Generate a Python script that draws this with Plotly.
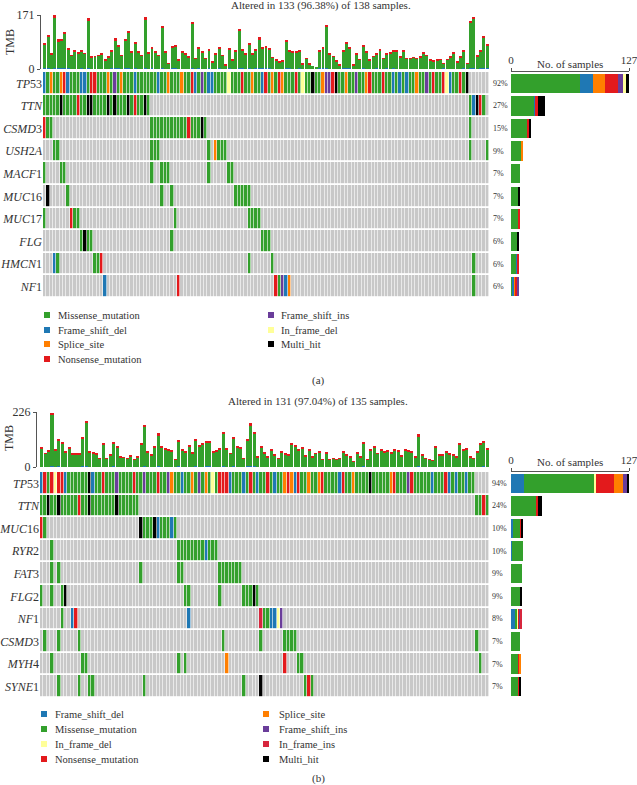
import plotly.graph_objects as go

W, H = 637, 785
FONT = "Liberation Serif"
TXT = "#333333"

# mutation classes: code -> label / colour
codes = ["M", "D", "S", "N", "I", "F", "H", "J"]
names = {"M": "Missense_mutation", "D": "Frame_shift_del", "S": "Splice_site",
         "N": "Nonsense_mutation", "I": "Frame_shift_ins", "F": "In_frame_del",
         "H": "Multi_hit", "J": "In_frame_ins"}
colors = {"M": "#33A02C", "D": "#1F78B4", "S": "#FF7F00", "N": "#E31A1C",
          "I": "#6A3D9A", "F": "#FFFF99", "H": "#000000", "J": "#D7263D"}
bg_gray = "#C8C8C8"

# ---------------- panel (a) data ----------------
n_a = 133
genes_a = ["TP53", "TTN", "CSMD3", "USH2A", "MACF1", "MUC16", "MUC17", "FLG", "HMCN1", "NF1"]
pct_a = ["92%", "27%", "15%", "9%", "7%", "7%", "7%", "6%", "6%", "6%"]
# each gene: list of (first sample column, run of mutation codes)
rows_a = [
    [(0, "DMSMMSNDMM" "MDDMNNMMMS" "MIMSMMMDMM" "MMMMDMMSMM" "MSMMNDMIMD" "DMMMMFMMMN"
         "MMSMMDNMSM" "NSMMMNMFMM" "HMMSIINHMM" "SMMIMMSNMM" "MNMMDMDMDM" "MSMMIMNMMN" "FDMMNMH")],
    [(0, "MMMMMHMMMM" "NMMHHMMMMH" "MHMMMHMNMM" "HM"), (127, "MDHNM")],
    [(0, "NMM"), (32, "MMMMMMMMMMMNMMMHM"), (127, "M")],
    [(3, "MM"), (32, "MMM"), (49, "M"), (51, "SMMM"), (127, "M"), (132, "M")],
    [(0, "M"), (5, "MM"), (32, "M"), (35, "MMM"), (49, "M"), (55, "MM")],
    [(1, "H"), (7, "M"), (35, "M"), (38, "M"), (57, "MMMMM")],
    [(0, "M"), (8, "NMM"), (39, "M"), (61, "MMMM")],
    [(11, "MHMM"), (38, "M"), (65, "MMM")],
    [(3, "DM"), (15, "MMN"), (61, "M"), (68, "M"), (128, "M")],
    [(18, "D"), (40, "N"), (69, "NMIDS"), (128, "M")],
]
tmb_a = [83, 108, 50, 171, 94, 94, 118, 65, 44, 58, 52, 60, 50, 160, 39, 41, 44, 48, 29, 39,
         60, 97, 76, 44, 94, 121, 55, 87, 55, 44, 164, 52, 68, 55, 44, 136, 55, 18, 71, 76,
         29, 55, 50, 39, 150, 34, 71, 55, 34, 62, 23, 50, 68, 44, 13, 65, 29, 58, 126, 62,
         48, 81, 50, 62, 100, 69, 71, 65, 37, 29, 23, 26, 92, 60, 55, 55, 60, 16, 34, 16,
         10, 7, 58, 68, 140, 48, 41, 26, 13, 60, 87, 68, 13, 50, 31, 76, 55, 29, 41, 50,
         62, 34, 48, 52, 58, 60, 39, 60, 34, 34, 37, 34, 39, 52, 44, 29, 26, 29, 31, 18,
         31, 39, 52, 23, 39, 58, 18, 153, 166, 44, 60, 105, 79]
tmb_non_a = [6, 7, 3, 9, 6, 4, 8, 4, 2, 3, 3, 4, 2, 9, 2, 2, 2, 3, 1, 2,
             4, 6, 5, 2, 5, 8, 3, 6, 3, 2, 9, 3, 4, 3, 2, 7, 3, 1, 4, 5,
             1, 3, 3, 2, 8, 2, 5, 3, 2, 4, 1, 3, 4, 2, 1, 4, 1, 3, 7, 4,
             3, 5, 3, 4, 6, 5, 4, 4, 2, 1, 1, 1, 6, 4, 3, 3, 4, 1, 2, 1,
             0, 0, 3, 4, 8, 3, 2, 1, 1, 4, 5, 4, 1, 3, 2, 5, 3, 2, 2, 3,
             4, 2, 3, 3, 4, 4, 2, 4, 2, 2, 2, 2, 3, 3, 2, 2, 2, 2, 2, 1,
             2, 3, 3, 1, 2, 4, 1, 8, 9, 3, 4, 7, 5]
tmb_del_a = [2, 3, 1, 4, 2, 2, 3, 2, 1, 1, 1, 2, 1, 4, 1, 1, 1, 1, 1, 1,
             2, 3, 2, 1, 3, 3, 1, 2, 1, 1, 4, 1, 2, 1, 1, 3, 1, 0, 2, 2,
             1, 1, 1, 1, 3, 1, 2, 1, 1, 2, 0, 1, 2, 1, 0, 2, 1, 1, 3, 2,
             1, 2, 1, 2, 3, 2, 2, 2, 1, 1, 0, 1, 3, 2, 1, 1, 2, 0, 1, 0,
             0, 0, 2, 2, 3, 1, 1, 1, 0, 2, 2, 2, 0, 1, 1, 2, 1, 1, 1, 2,
             1, 1, 2, 1, 2, 1, 1, 1, 1, 1, 1, 1, 1, 1, 1, 1, 0, 1, 1, 2,
             1, 1, 1, 0, 1, 2, 0, 4, 4, 1, 2, 3, 2]
tmb_max_a = 171
bar_max_a = 127
stack_a = ["M", "D", "S", "N", "I", "F", "H"]
legend_a = [["M", "D", "S", "N"], ["I", "F", "H"]]
title_a = "Altered in 133 (96.38%) of 138 samples."

# ---------------- panel (b) data ----------------
n_b = 131
genes_b = ["TP53", "TTN", "MUC16", "RYR2", "FAT3", "FLG2", "NF1", "CSMD3", "MYH4", "SYNE1"]
pct_b = ["94%", "24%", "10%", "10%", "9%", "9%", "8%", "7%", "7%", "7%"]
rows_b = [
    [(0, "DNMNFNNDMM" "MMMMHDMMNM" "MMIMMMMNMM" "IMMMNMMISM" "MDMMSMIMSM" "FMNNNDMMMD"
         "MNMDMMNMDM" "MSNSDNMMSM" "MSNMMMMDNM" "MSMMMMHMMM" "MMSNMMMINM" "MMMMDMMMND" "MDMMDMM")],
    [(0, "MMHMMHMMMM" "MNMMHMMMMM" "MMHMMMMMM"), (127, "MMNM")],
    [(0, "NM"), (29, "HMMMHDMMMDM")],
    [(3, "M"), (40, "MMMMMMMMDMMM")],
    [(3, "M"), (5, "M"), (29, "M"), (40, "MM"), (52, "MMMMMMM")],
    [(0, "M"), (3, "M"), (6, "MH"), (42, "MM"), (52, "M"), (59, "MMMHM")],
    [(6, "M"), (9, "DN"), (43, "D"), (64, "JMMDDFI")],
    [(1, "M"), (5, "M"), (11, "M"), (53, "M"), (64, "M"), (71, "MMMM"), (127, "M")],
    [(3, "M"), (12, "MM"), (40, "M"), (42, "M"), (54, "S"), (71, "N"), (75, "MM"), (128, "M")],
    [(5, "M"), (11, "M"), (14, "MM"), (30, "M"), (59, "M"), (64, "H"), (77, "MNM")],
]
tmb_b = [81, 57, 68, 222, 70, 114, 104, 64, 81, 54, 54, 54, 124, 189, 64, 60, 54, 37, 97, 37,
         50, 104, 87, 43, 41, 37, 46, 32, 43, 97, 172, 64, 50, 87, 138, 84, 77, 70, 68, 30,
         111, 70, 64, 91, 60, 114, 87, 97, 108, 104, 64, 68, 77, 145, 77, 57, 124, 84, 81, 37,
         114, 179, 145, 43, 84, 60, 43, 70, 50, 37, 64, 54, 50, 97, 91, 70, 81, 46, 73, 43,
         57, 64, 30, 60, 30, 37, 30, 37, 64, 50, 43, 23, 60, 43, 104, 32, 70, 84, 57, 70,
         64, 68, 60, 70, 68, 46, 70, 68, 64, 43, 135, 50, 37, 30, 27, 87, 50, 50, 64, 54,
         50, 43, 97, 70, 77, 43, 37, 64, 97, 108, 77]
tmb_non_b = [5, 3, 4, 10, 4, 7, 6, 3, 4, 3, 3, 3, 7, 8, 3, 3, 3, 2, 5, 2,
             3, 6, 5, 2, 2, 2, 2, 2, 2, 5, 9, 3, 3, 5, 8, 4, 4, 3, 3, 1,
             6, 3, 3, 5, 3, 6, 4, 5, 6, 5, 3, 3, 4, 8, 4, 3, 6, 4, 4, 2,
             6, 9, 8, 2, 4, 3, 2, 4, 3, 2, 3, 3, 3, 5, 5, 4, 4, 2, 4, 2,
             3, 3, 1, 3, 1, 2, 1, 2, 3, 3, 2, 1, 3, 2, 6, 2, 4, 5, 3, 4,
             3, 4, 3, 4, 4, 2, 4, 4, 3, 2, 8, 3, 2, 1, 1, 5, 3, 3, 3, 3,
             3, 2, 6, 4, 4, 2, 2, 4, 6, 6, 4]
tmb_del_b = [2, 1, 2, 4, 2, 3, 2, 1, 2, 1, 1, 1, 3, 4, 1, 1, 1, 1, 2, 1,
             1, 3, 2, 1, 1, 1, 1, 1, 1, 2, 4, 1, 1, 2, 3, 2, 2, 2, 1, 1,
             3, 2, 2, 2, 1, 3, 2, 2, 3, 3, 1, 2, 2, 4, 2, 1, 3, 2, 2, 1,
             3, 4, 3, 1, 2, 1, 1, 2, 1, 1, 2, 1, 1, 2, 2, 2, 2, 1, 2, 1,
             2, 1, 1, 1, 1, 1, 1, 1, 2, 1, 1, 1, 1, 1, 3, 1, 2, 2, 1, 2,
             2, 2, 1, 2, 2, 1, 2, 2, 2, 1, 3, 1, 1, 1, 1, 2, 1, 1, 2, 1,
             1, 1, 2, 2, 2, 1, 1, 2, 2, 3, 2]
tmb_max_b = 226
bar_max_b = 127
stack_b = ["D", "M", "F", "N", "S", "I", "J", "H"]
legend_b = [["D", "M", "F", "N"], ["S", "I", "J", "H"]]
title_b = "Altered in 131 (97.04%) of 135 samples."


def fx(px):
    return px / W


def fy(py):
    return 1 - py / H


def italic_gene(g):
    out = ""
    for ch in g:
        out += ch if ch.isdigit() else "<i>" + ch + "</i>"
    return out.replace("</i><i>", "")


def build_row(segments, n):
    row = [0] * n
    for start, run in segments:
        for k, ch in enumerate(run):
            row[start + k] = codes.index(ch) + 1
    return row


# discrete colour scale for the oncoplot grid
grid_colors = [bg_gray] + [colors[c] for c in codes]
cscale = []
for i, c in enumerate(grid_colors):
    cscale.append([i / len(grid_colors), c])
    cscale.append([(i + 1) / len(grid_colors), c])

fig = go.Figure()
annotations = []
shapes = []
layout_axes = {}


def ax_names(i):
    s = "" if i == 1 else str(i)
    return "x" + s, "y" + s, "xaxis" + s, "yaxis" + s


def note(text, x, y, size, xanchor="center", yref="paper", angle=0):
    annotations.append(dict(text=text, x=x, y=y, xref="paper", yref=yref,
                            xanchor=xanchor, yanchor="middle", textangle=angle,
                            showarrow=False, font=dict(family=FONT, size=size, color=TXT)))


def add_panel(ids, n, rows, genes, pct, tmb, tmb_non, tmb_del, tmb_max, bar_max,
              stack, legend, title, tag, g):
    (xt, yt, XT, YT), (xh, yh, XH, YH), (xb, yb, XB, YB) = [ax_names(i) for i in ids]
    cols = list(range(n))
    mis = [t - a - b for t, a, b in zip(tmb, tmb_non, tmb_del)]

    # TMB stacked bars on top
    for vals, c in [(tmb_del, "D"), (mis, "M"), (tmb_non, "N")]:
        fig.add_trace(go.Bar(x=cols, y=vals, width=0.88, marker_color=colors[c],
                             marker_line_width=0, showlegend=False,
                             hoverinfo="skip", xaxis=xt, yaxis=yt))

    # oncoplot grid
    z = [build_row(r, n) for r in rows]
    fig.add_trace(go.Heatmap(z=z, x=cols, y=list(range(len(genes))), colorscale=cscale,
                             zmin=-0.5, zmax=len(grid_colors) - 0.5, showscale=False,
                             xgap=0.6, ygap=1.8, hoverinfo="skip", xaxis=xh, yaxis=yh))

    # sample counts per gene on the right
    for c in stack:
        counts = [sum(1 for v in zr if v == codes.index(c) + 1) for zr in z]
        fig.add_trace(go.Bar(y=list(range(len(genes))), x=counts, orientation="h",
                             width=0.86, marker_color=colors[c], marker_line_width=0,
                             showlegend=False, hoverinfo="skip", xaxis=xb, yaxis=yb))

    tick_font = dict(family=FONT, size=12, color=TXT)
    layout_axes[XT] = dict(domain=[fx(g["gx0"]), fx(g["gx1"])], range=[-0.5, n - 0.5],
                           visible=False, anchor=yt, automargin=False)
    layout_axes[YT] = dict(domain=[fy(g["t0"]), fy(g["t1"])], range=[0, tmb_max],
                           tickvals=[0, tmb_max], ticks="outside", ticklen=3,
                           tickcolor="#555", showline=True, linecolor="#555",
                           linewidth=1, showgrid=False, zeroline=False, automargin=False,
                           anchor="free", position=fx(g["axx"]), tickfont=tick_font)
    layout_axes[XH] = dict(domain=[fx(g["gx0"]), fx(g["gx1"])], range=[-0.5, n - 0.5],
                           visible=False, anchor=yh, automargin=False)
    layout_axes[YH] = dict(domain=[fy(g["gy1"]), fy(g["gy0"])],
                           range=[len(genes) - 0.5, -0.5], tickvals=list(range(len(genes))),
                           ticktext=[italic_gene(x) for x in genes], ticks="",
                           showline=False, showgrid=False, zeroline=False, anchor=xh,
                           automargin=False, tickfont=tick_font)
    layout_axes[XB] = dict(domain=[fx(g["bx0"]), fx(g["bx1"])], range=[0, bar_max],
                           side="top", tickvals=[0, bar_max], ticks="outside", ticklen=3,
                           tickcolor="#555", showline=True, linecolor="#555", linewidth=1,
                           showgrid=False, zeroline=False, anchor=yb, automargin=False,
                           ticklabeloverflow="allow",
                           tickfont=dict(family=FONT, size=11, color=TXT))
    layout_axes[YB] = dict(domain=[fy(g["gy1"]), fy(g["gy0"])],
                           range=[len(genes) - 0.5, -0.5], visible=False, anchor=xb,
                           automargin=False)

    note(title, fx(g["title_x"]), fy(g["title_y"]), 11)
    note("TMB", fx(g["tmb_x"]), fy(g["tmb_y"]), 12, angle=-90)
    note("No. of samples", fx((g["bx0"] + g["bx1"]) / 2), fy(g["nos_y"]), 11)
    for i, p in enumerate(pct):
        note(p, fx(g["pct_x"]), i, 8, xanchor="left", yref=yh)
    note(tag, fx(318), fy(g["tag_y"]), 11)

    # legend: two columns of small squares with labels
    for ci, col in enumerate(legend):
        for ri, c in enumerate(col):
            cx, cy = g["leg_mx"][ci], g["leg_y"][ri]
            shapes.append(dict(type="rect", xref="paper", yref="paper",
                               x0=fx(cx - 3), x1=fx(cx + 3), y0=fy(cy + 3), y1=fy(cy - 3),
                               fillcolor=colors[c], line_width=0))
            note(names[c], fx(g["leg_tx"][ci]), fy(cy), 10.5, xanchor="left")


geo_a = dict(gx0=43, gx1=489, t0=69, t1=15, axx=40, gy0=72, gy1=298, bx0=511, bx1=629,
             title_x=321, title_y=6, tmb_x=10, tmb_y=42, nos_y=64, pct_x=491, tag_y=380,
             leg_mx=[47, 271], leg_tx=[56, 279], leg_y=[315, 330, 344, 359])
geo_b = dict(gx0=40, gx1=489, t0=467, t1=412, axx=36, gy0=472, gy1=698, bx0=511, bx1=629,
             title_x=318, title_y=401, tmb_x=9, tmb_y=438, nos_y=462, pct_x=490, tag_y=778,
             leg_mx=[44, 266], leg_tx=[53, 277], leg_y=[714, 729, 744, 759])

add_panel((1, 2, 3), n_a, rows_a, genes_a, pct_a, tmb_a, tmb_non_a, tmb_del_a, tmb_max_a,
          bar_max_a, stack_a, legend_a, title_a, "(a)", geo_a)
add_panel((4, 5, 6), n_b, rows_b, genes_b, pct_b, tmb_b, tmb_non_b, tmb_del_b, tmb_max_b,
          bar_max_b, stack_b, legend_b, title_b, "(b)", geo_b)

fig.update_layout(
    template="none",
    width=W, height=H,
    margin=dict(l=0, r=0, t=0, b=0, autoexpand=False),
    paper_bgcolor="white", plot_bgcolor="white",
    barmode="stack",
    showlegend=False,
    annotations=annotations,
    shapes=shapes,
    font=dict(family=FONT, color=TXT),
    **layout_axes
)

# the page body has a default 8px margin; remove it so the figure sits at 0,0
fig.write_html("out.html", config={"displayModeBar": False},
               post_script="document.body.style.margin='0px';")
